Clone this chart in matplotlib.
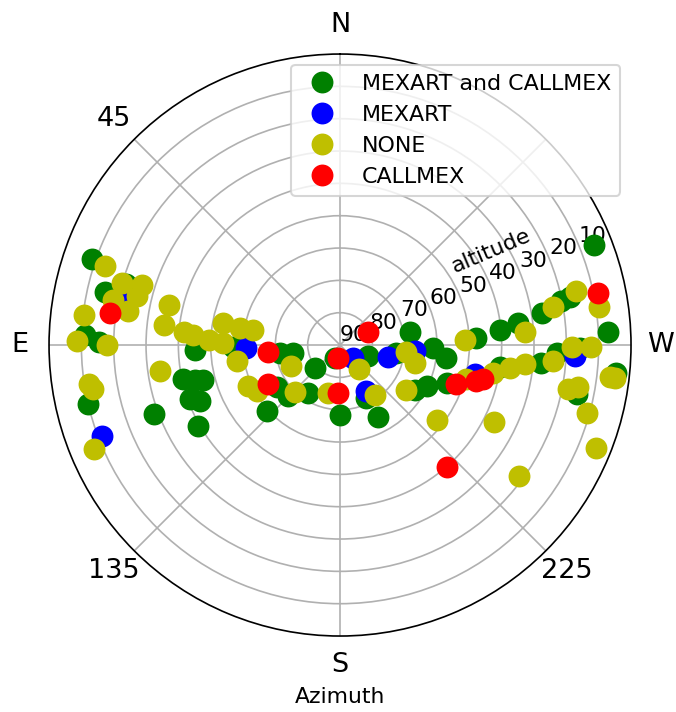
import numpy as np
import matplotlib
matplotlib.use("Agg")
import matplotlib.pyplot as plt

# azimuth (deg, from N toward E) and altitude (deg) of each source, by detection class
both_az = [70.8, 74.1, 77.4, 87.8, 89.2, 91.8, 102.2, 103.5, 104.4, 103.2, 109.9, 111.8,
           110.4, 119.6, 90.9, 97.8, 100.0, 132.6, 123.3, 134.3, 146.1, 131.8, 158.3,
           179.8, 248.6, 206.4, 207.7, 261.6, 280.5, 268.0, 262.9, 272.8, 238.9, 244.8,
           250.2, 262.3, 275.4, 277.2, 279.0, 281.2, 281.9, 291.4, 272.7, 264.9, 267.9,
           269.3, 264.2, 258.3]
both_alt = [8.7, 21.1, 15.4, 11.0, 15.4, 45.0, 40.3, 43.8, 46.2, 10.0, 40.6, 43.3,
            28.6, 39.5, 56.9, 71.2, 75.2, 79.4, 66.5, 67.4, 72.2, 59.5, 85.6,
            68.4, 80.7, 71.6, 64.9, 72.4, 67.9, 61.2, 56.9, 48.0, 63.0, 60.2,
            55.0, 40.2, 40.4, 34.6, 26.9, 20.2, 17.4, 5.6, 7.0, 27.5, 22.9,
            15.9, 4.1, 15.3]

mexart_az = [77.8, 110.9, 91.8, 226.1, 256.0, 265.8, 210.1, 257.9, 267.4]
mexart_alt = [21.7, 11.2, 60.8, 84.4, 74.7, 66.8, 73.7, 47.4, 17.3]

none_az = [71.3, 74.0, 73.1, 78.8, 76.3, 80.8, 83.4, 77.0, 83.6, 89.1, 90.0, 85.1,
           86.2, 87.7, 89.2, 79.5, 80.5, 80.2, 98.1, 98.8, 100.1, 112.9, 98.7, 112.9,
           113.7, 118.9, 135.7, 166.0, 217.9, 264.2, 256.8, 272.3, 214.8, 235.9, 232.3,
           254.9, 259.5, 262.2, 264.0, 265.7, 274.1, 280.1, 282.8, 278.3, 269.6, 269.6,
           263.3, 263.1, 259.1, 260.0, 254.6, 248.2, 243.5, 233.8]
none_alt = [13.4, 19.9, 26.1, 18.4, 25.4, 23.6, 10.3, 35.6, 35.2, 8.5, 17.9, 41.5,
            44.4, 49.4, 53.7, 53.2, 58.6, 62.7, 33.9, 11.4, 12.4, 7.3, 57.9, 73.7,
            58.8, 60.6, 69.9, 74.7, 80.6, 69.4, 66.3, 51.4, 71.2, 65.2, 52.1,
            49.5, 41.9, 37.0, 32.6, 23.9, 32.7, 23.2, 15.0, 9.1, 18.4, 12.3,
            6.0, 4.4, 18.2, 15.2, 10.7, 4.6, 36.9, 21.5]

callmex_az = [82.1, 95.3, 118.6, 295.4, 172.3, 177.3, 251.6, 255.4, 256.5, 281.3, 221.3]
callmex_alt = [18.3, 67.6, 64.6, 80.4, 85.8, 75.0, 52.1, 46.4, 44.5, 8.6, 39.8]

series = [
    ("MEXART and CALLMEX", both_az, both_alt, "g"),
    ("MEXART", mexart_az, mexart_alt, "b"),
    ("NONE", none_az, none_alt, "y"),
    ("CALLMEX", callmex_az, callmex_alt, "r"),
]

fig = plt.figure(figsize=(676 / 150, 712 / 150), dpi=150)
ax = fig.add_axes([0.0725, 0.1067, 0.861, 0.8174], projection="polar")
ax.set_theta_zero_location("N")
ax.set_theta_direction(1)

for label, az, alt, color in series:
    ax.plot(np.radians(az), 90 - np.array(alt), "o", color=color, markersize=9.5, label=label)

# radial axis is zenith distance, labelled as altitude
ax.set_rmax(90)
ax.set_rmin(0)
ax.set_yticks(range(0, 90, 10))
ax.set_yticklabels([str(90 - t) for t in range(0, 90, 10)], fontsize=10.5)
ax.set_rlabel_position(292.5)
ax.set_thetagrids(range(0, 360, 45), labels=["N", "45", "E", "135", "S", "225", "W", ""],
                  fontsize=13)
ax.text(np.radians(302), 55, "altitude", rotation=23, ha="center", va="center", fontsize=10.5)
ax.set_xlabel("Azimuth", fontsize=10.5)
ax.legend(loc="upper right", fontsize=10.6)

fig.savefig("out.png", dpi=150)
